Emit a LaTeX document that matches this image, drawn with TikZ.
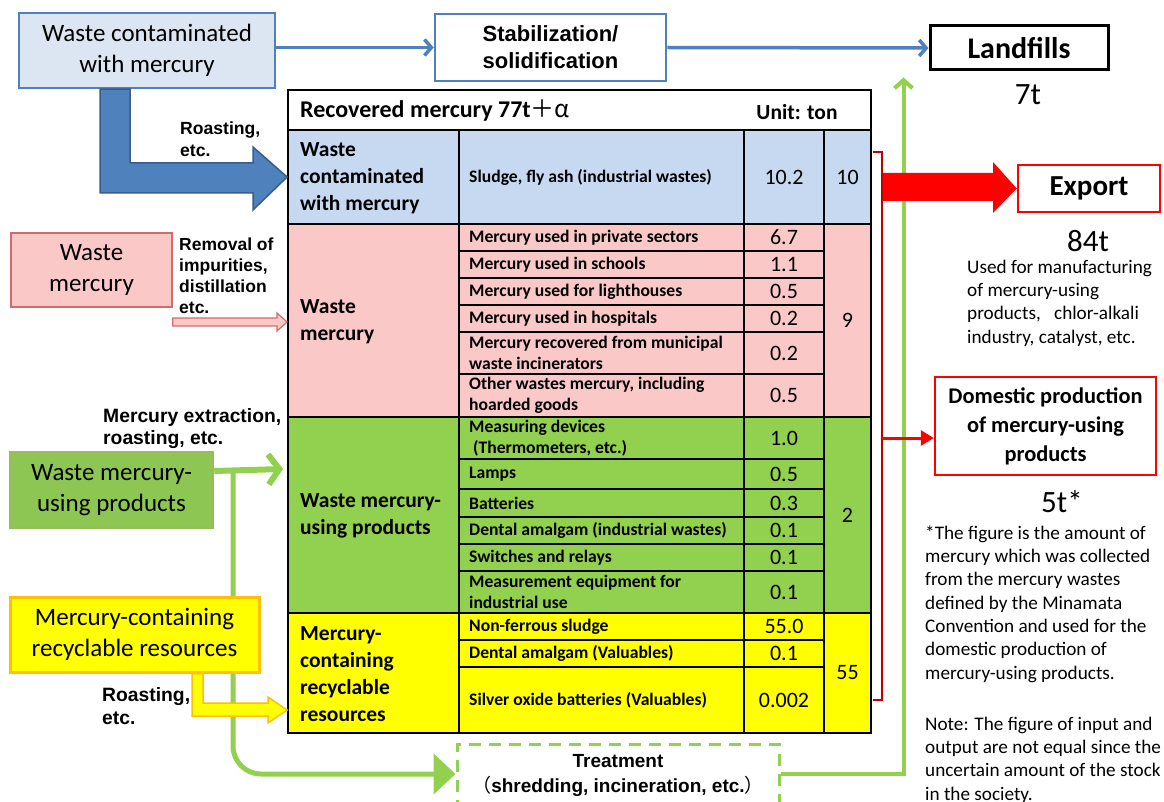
\documentclass[tikz,border=0pt]{standalone}
\usepackage{fontspec}
\setmainfont{Carlito}
\newfontfamily\arialf{Liberation Sans}
\newfontfamily\cjk{Noto Sans CJK JP}
\usetikzlibrary{arrows.meta,fit,calc}
\pgfdeclarelayer{bg}
\pgfsetlayers{bg,main}
\definecolor{bline}{HTML}{4F81BD}
\definecolor{bdark}{HTML}{385D8A}
\definecolor{boxblue}{HTML}{DCE6F2}
\definecolor{tblue}{HTML}{C6D9F1}
\definecolor{tpink}{HTML}{FBC8C8}
\definecolor{pinkb}{HTML}{D46A6A}
\definecolor{tgreen}{HTML}{92D050}
\definecolor{lgreen}{HTML}{8DC652}
\definecolor{lgreenb}{HTML}{9BBB59}
\definecolor{tyellow}{HTML}{FFFF00}
\definecolor{orangeb}{HTML}{FFC000}
\definecolor{darkred}{HTML}{C00000}
\definecolor{pureRed}{HTML}{FF0000}
\newcommand\trow[6]{%
  \node[cell, fill=#4, fit={(459,#2)(744,#3)}] (#1i) {};
  \node[itemtxt] (#1t) at (469,{(#2+#3)/2}) {#5};
  \node[cell, fill=#4, fit={(744,#2)(824,#3)}] (#1n) {};
  \node[numtxt] (#1v) at (#1n.center) {#6};
}
\begin{document}
\begin{tikzpicture}[x=1pt,y=-1pt,
  box/.style={draw, inner sep=0pt},
  btxt/.style={inner sep=0pt, align=center},
  bigtxt/.style={btxt, font=\fontsize{25}{31}\selectfont},
  proc/.style={font=\arialf\bfseries\fontsize{17.5}{21}\selectfont, align=left, inner sep=0pt, anchor=west},
  cell/.style={draw, line width=1.8pt, inner sep=0pt},
  cattxt/.style={font=\bfseries\fontsize{21.5}{27}\selectfont, align=left, inner sep=0pt, anchor=west},
  itemtxt/.style={font=\bfseries\fontsize{17.6}{21}\selectfont, align=left, inner sep=0pt, anchor=west},
  numtxt/.style={font=\fontsize{22}{24}\selectfont, inner sep=0pt},
  tonnes/.style={font=\fontsize{31}{34}\selectfont, inner sep=0pt},
  note/.style={font=\fontsize{19.2}{23.3}\selectfont, align=left, inner sep=0pt, anchor=west},
  barrow/.style={draw=bline, line width=3.5pt, -{Straight Barb[length=7pt,width=16pt]}},
  garrow/.style={draw=tgreen, line width=6pt},
]
\useasboundingbox (0,0) rectangle (1164,802);
\clip (0,0) rectangle (1164,802);

% ---------- left and top boxes ----------
\node[box, draw=bline, fill=boxblue, line width=2.5pt, fit={(19,13)(275,88)}] (wcm) {};
\node[bigtxt] (wcmt) at (wcm.center) {Waste contaminated\\with mercury};
\node[box, draw=bline, fill=white, line width=2.5pt, fit={(435,14)(666,81)}] (stab) {};
\node[btxt, font=\arialf\bfseries\fontsize{22}{27}\selectfont] (stabt) at (stab.center) {Stabilization/\\solidification};
\node[box, draw=black, fill=white, line width=3pt, fit={(930,26)(1108,70)}] (lf) {};
\node[btxt, font=\bfseries\fontsize{30}{32}\selectfont] (lft0) at (lf.center) {Landfills};
\node[tonnes] (lft) at (1028,95) {7t};

\node[box, draw=pinkb, fill=tpink, line width=1.5pt, fit={(11,233)(172,307)}] (wm) {};
\node[bigtxt] (wmt) at (wm.center) {Waste\\mercury};
\node[box, draw=lgreenb, fill=lgreen, line width=2.5pt, fit={(10,452)(213,528)}] (wmp) {};
\node[bigtxt] (wmpt) at (wmp.center) {Waste mercury-\\using products};
\node[box, draw=orangeb, fill=tyellow, line width=3pt, fit={(10,597)(259,672)}] (mcr) {};
\node[bigtxt] (mcrt) at (mcr.center) {Mercury-containing\\recyclable resources};

% process labels
\node[proc, font=\arialf\bfseries\fontsize{17.6}{22}\selectfont] (lab1) at (180,139) {Roasting,\\etc.};
\node[proc] (lab2) at (179,275.5) {Removal of\\impurities,\\distillation\\etc.};
\node[proc, font=\arialf\bfseries\fontsize{19.3}{22}\selectfont] (lab3) at (103,429) {Mercury extraction,\\roasting, etc.};
\node[proc, font=\arialf\bfseries\fontsize{19.3}{23}\selectfont] (lab4) at (102,706.5) {Roasting,\\etc.};

% ---------- table ----------
\node[cell, fill=white, fit={(288,90)(871,130)}] (hdr) {};
\node[cattxt, font=\bfseries\fontsize{24}{27}\selectfont] (hdrt) at (300,111) {Recovered mercury 77t{\cjk\mdseries ＋α}};
\node[font=\bfseries\fontsize{21.5}{24}\selectfont, inner sep=0pt] (unit) at (797,112) {Unit: ton};

% blue
\node[cell, fill=tblue, fit={(288,130)(459,224)}] (catB) {};
\node[cattxt] (catBt) at (300,178) {Waste\\contaminated\\with mercury};
\trow{rb1}{130}{224}{tblue}{Sludge, fly ash (industrial wastes)}{10.2}
\node[cell, fill=tblue, fit={(824,130)(871,224)}] (totB) {};
\node[numtxt] (totBt) at (totB.center) {10};

% pink
\node[cell, fill=tpink, fit={(288,224)(459,417)}] (catP) {};
\node[cattxt] (catPt) at (300,322) {Waste\\mercury};
\trow{rp1}{224}{251}{tpink}{Mercury used in private sectors}{6.7}
\trow{rp2}{251}{278}{tpink}{Mercury used in schools}{1.1}
\trow{rp3}{278}{305}{tpink}{Mercury used for lighthouses}{0.5}
\trow{rp4}{305}{332}{tpink}{Mercury used in hospitals}{0.2}
\trow{rp5}{332}{374}{tpink}{Mercury recovered from municipal\\waste incinerators}{0.2}
\trow{rp6}{374}{417}{tpink}{Other wastes mercury, including\\hoarded goods}{0.5}
\node[cell, fill=tpink, fit={(824,224)(871,417)}] (totP) {};
\node[numtxt] (totPt) at (totP.center) {9};

% green
\node[cell, fill=tgreen, fit={(288,417)(459,613)}] (catG) {};
\node[cattxt] (catGt) at (300,516) {Waste mercury-\\using products};
\trow{rg1}{417}{459}{tgreen}{Measuring devices\\\ (Thermometers, etc.)}{1.0}
\trow{rg2}{459}{489}{tgreen}{Lamps}{0.5}
\trow{rg3}{489}{517}{tgreen}{Batteries}{0.3}
\trow{rg4}{517}{544}{tgreen}{Dental amalgam (industrial wastes)}{0.1}
\trow{rg5}{544}{571}{tgreen}{Switches and relays}{0.1}
\trow{rg6}{571}{613}{tgreen}{Measurement equipment for\\industrial use}{0.1}
\node[cell, fill=tgreen, fit={(824,417)(871,613)}] (totG) {};
\node[numtxt] (totGt) at (totG.center) {2};

% yellow
\node[cell, fill=tyellow, fit={(288,613)(459,733)}] (catY) {};
\node[cattxt] (catYt) at (300,674) {Mercury-\\containing\\recyclable\\resources};
\trow{ry1}{613}{640}{tyellow}{Non-ferrous sludge}{55.0}
\trow{ry2}{640}{667}{tyellow}{Dental amalgam (Valuables)}{0.1}
\trow{ry3}{667}{733}{tyellow}{Silver oxide batteries (Valuables)}{0.002}
\node[cell, fill=tyellow, fit={(824,613)(871,733)}] (totY) {};
\node[numtxt] (totYt) at (totY.center) {55};

% ---------- treatment ----------
\node[box, draw=tgreen, line width=3pt, dash pattern=on 12pt off 8pt, fill=white, fit={(457,744)(779,804)}] (treat) {};
\node[btxt, font=\arialf\bfseries\fontsize{19}{25}\selectfont] (treatt) at (618,775.5) {Treatment\\{\cjk\mdseries （}shredding, incineration, etc.{\cjk\mdseries ）}};

% ---------- right side ----------
\node[box, draw=pureRed, fill=white, line width=2.5pt, fit={(1018,165)(1160,212)}] (exp) {};
\node[btxt, font=\bfseries\fontsize{29}{32}\selectfont] (expl) at (exp.center) {Export};
\node[tonnes] (expt) at (1088,241) {84t};
\node[note] (expn) at (967,303) {Used for manufacturing\\of mercury-using\\products,\hspace{9pt} chlor-alkali\\industry, catalyst, etc.};
\node[box, draw=pureRed, fill=white, line width=2.5pt, fit={(935,377)(1156,475)}] (dom) {};
\node[btxt, font=\bfseries\fontsize{22.4}{29}\selectfont] (doml) at (dom.center) {Domestic production\\of mercury-using\\products};
\node[tonnes] (domt) at (1062,502) {5t*};
\node[note] (foot) at (925,604) {*The figure is the amount of\\mercury which was collected\\from the mercury wastes\\defined by the Minamata\\Convention and used for the\\domestic production of\\mercury-using products.};
\node[note] (nt) at (925,760) {Note: The figure of input and\\output are not equal since the\\uncertain amount of the stock\\in the society.};

% ---------- connectors ----------
\draw[barrow] (wcm.east |- stab.west) -- (stab.west);
\draw[barrow] (stab.east) -- (lf.west);

% block arrows into the table
\draw[fill=bline, draw=bdark, line width=1.5pt, line join=miter] (wcm.south -| 100,0) -- (wcm.south -| 130,0) -- (130,163) -- (253,163) -- (253,147) -- (catB.west) -- (253,210) -- (253,193) -- (100,193) -- cycle;
\draw[fill=tpink, draw=pinkb, line width=1.2pt] (wm.south east |- 0,318) -- (277,318) -- (277,313) -- (catP.west |- 0,322) -- (277,331) -- (277,326) -- (wm.south east |- 0,326) -- cycle;
\draw[fill=tyellow, draw=orangeb, line width=1.5pt] (mcr.south -| 192,0) -- (mcr.south -| 203,0) -- (203,703) -- (268,703) -- (268,697) -- (catY.west |- 0,710) -- (268,723) -- (268,716) -- (192,716) -- cycle;

% export and domestic-production arrows
\draw[fill=pureRed, draw=none] (883,173) -- (993,173) -- (993,162) -- (exp.west) -- (993,213) -- (993,201) -- (883,201) -- cycle;
\draw[darkred, line width=2pt] (873,152) -| (882,700) -- (873,700);
\coordinate (bk) at (882,438);
\draw[pureRed, line width=3pt, -{Triangle[length=13pt,width=15pt]}] (bk) -- (bk -| dom.west);

% green connectors (behind boxes and red arrows)
\coordinate (gb) at (233,471);
\begin{pgfonlayer}{bg}
\draw[garrow, -{Straight Barb[length=11pt,width=30pt]}] ([yshift=19pt]wmp.east) -- ([yshift=21pt,xshift=-4pt]wmp.east -| catG.west);
\draw[draw=tgreen, line width=5pt, rounded corners=28pt, -{Triangle[length=22pt,width=40pt]}] (gb) |- (treat.west);
\draw[draw=tgreen, line width=4pt, -{Straight Barb[length=8pt,width=18pt]}] (treat.east) -| ($(lf.south west)+(-25,6)$);
\end{pgfonlayer}
\end{tikzpicture}
\end{document}
